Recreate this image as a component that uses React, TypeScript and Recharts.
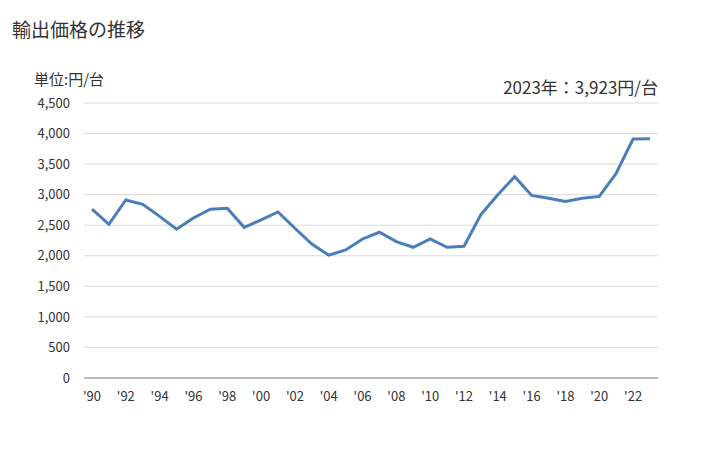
import { CartesianGrid, Line, LineChart, XAxis, YAxis } from "recharts";

const years = [
  "'90", "'91", "'92", "'93", "'94", "'95", "'96", "'97", "'98", "'99",
  "'00", "'01", "'02", "'03", "'04", "'05", "'06", "'07", "'08", "'09",
  "'10", "'11", "'12", "'13", "'14", "'15", "'16", "'17", "'18", "'19",
  "'20", "'21", "'22", "'23",
];

const prices = [
  2765, 2515, 2913, 2842, 2645, 2435, 2619, 2762, 2779, 2465,
  2586, 2717, 2450, 2193, 2010, 2095, 2275, 2385, 2231, 2139,
  2275, 2139, 2155, 2673, 3000, 3295, 2987, 2940, 2890, 2940,
  2972, 3350, 3910, 3915,
];

const yTicks = [0, 500, 1000, 1500, 2000, 2500, 3000, 3500, 4000, 4500];

const data = years.map((year, i) => ({ year, price: prices[i] }));

const font = "'Noto Sans CJK JP', 'Noto Sans', sans-serif";

export default function App() {
  return (
    <div style={{ position: "absolute", left: 0, top: 0, width: 728, height: 450, background: "#fff", fontFamily: font }}>
      <div style={{ position: "absolute", left: 12, top: 15, fontSize: 19, color: "#333" }}>輸出価格の推移</div>
      <div style={{ position: "absolute", left: 34, top: 68, fontSize: 15, color: "#333" }}>単位:円/台</div>
      <div style={{ position: "absolute", right: 70, top: 74, fontSize: 17, color: "#333" }}>2023年：3,923円/台</div>
      <LineChart width={728} height={450} data={data} margin={{ top: 103, right: 70, bottom: 40, left: 0 }}>
        <CartesianGrid vertical={false} stroke="#d9d9d9" />
        <XAxis
          dataKey="year"
          interval={1}
          tickLine={false}
          stroke="#898989"
          padding={{ left: 8, right: 8 }}
          tick={{ fill: "#333", fontSize: 13, fontFamily: font }}
          tickMargin={8}
          height={32}
        />
        <YAxis
          width={84}
          domain={[0, 4500]}
          ticks={yTicks}
          axisLine={false}
          tickLine={false}
          tickMargin={8}
          tickFormatter={(v: number) => v.toLocaleString("en-US")}
          tick={{ fill: "#333", fontSize: 13, fontFamily: font }}
        />
        <Line
          type="linear"
          dataKey="price"
          stroke="#4a7ebb"
          strokeWidth={3}
          dot={false}
          isAnimationActive={false}
        />
      </LineChart>
    </div>
  );
}
